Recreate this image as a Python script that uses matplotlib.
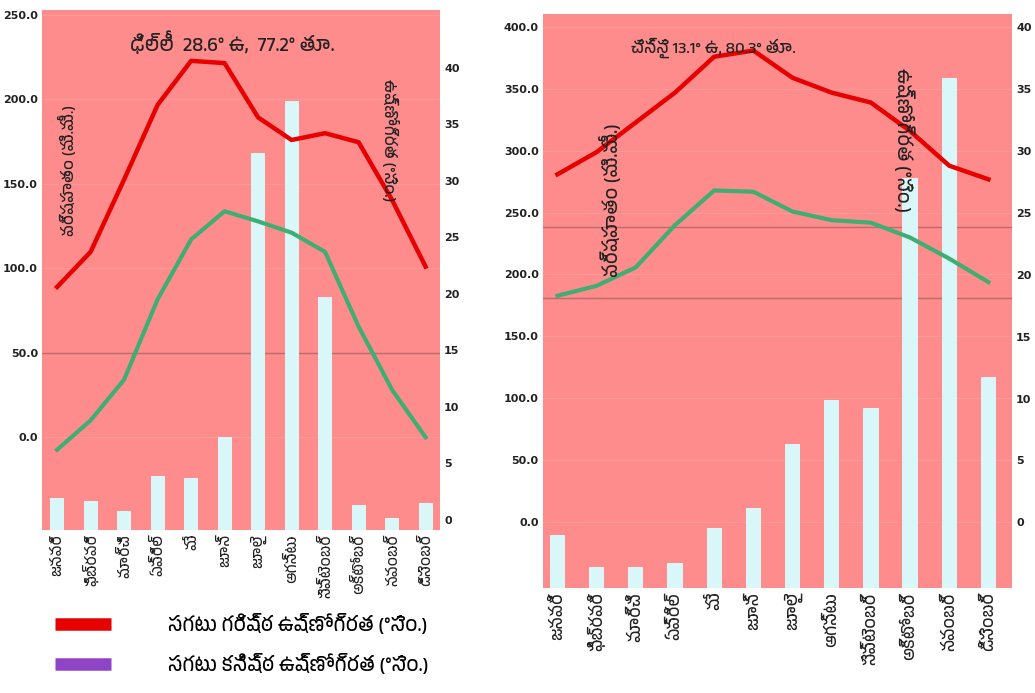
import matplotlib
matplotlib.use("Agg")
import matplotlib.pyplot as plt
from matplotlib import font_manager as fm
from matplotlib.ft2font import FT2Font
from matplotlib.lines import Line2D

# ---------------- data ----------------
months = ['జనవరి', 'ఫిబ్రవరి', 'మార్చి', 'ఏప్రిల్', 'మే', 'జూన్',
          'జూలై', 'ఆగస్టు', 'సెప్టెంబర్', 'అక్టోబర్', 'నవంబర్', 'డిసెంబర్']

delhi_title = 'ఢిల్లీ  28.6° ఉ,  77.2° తూ.'
delhi_rain = [19, 17, 11, 32, 31, 55, 223, 254, 138, 15, 7, 16]          # mm
delhi_tmax = [20.6, 23.7, 30.1, 36.7, 40.6, 40.4, 35.6, 33.6, 34.2, 33.4, 28.3, 22.4]
delhi_tmin = [6.2, 8.8, 12.4, 19.5, 24.8, 27.3, 26.4, 25.4, 23.7, 17.1, 11.5, 7.3]

chennai_title = 'చెన్నై 13.1° ఉ, 80.3° తూ.'
chennai_rain = [43, 17, 17, 20, 49, 65, 117, 152, 146, 332, 413, 171]    # mm
chennai_tmax = [28.1, 29.9, 32.3, 34.7, 37.6, 38.1, 35.9, 34.7, 33.9, 31.6, 28.8, 27.7]
chennai_tmin = [18.3, 19.1, 20.6, 24.0, 26.8, 26.7, 25.1, 24.4, 24.2, 23.0, 21.3, 19.4]

rain_label = 'వర్షపాతం (మి.మీ.)'
temp_label = 'ఉష్ణోగ్రత (°సెం.)'
legend_labels = ['సగటు గరిష్ఠ ఉష్ణోగ్రత (°సెం.)', 'సగటు కనిష్ఠ ఉష్ణోగ్రత (°సెం.)']

# ---------------- fonts ----------------
def find_family(ch):
    entries = sorted(fm.fontManager.ttflist, key=lambda e: ('telugu' not in e.name.lower()))
    for fe in entries:
        try:
            if ord(ch) in FT2Font(fe.fname).get_charmap():
                return fe.name
        except Exception:
            pass
    return None

tel = find_family('త')
FAM = ([tel] if tel else []) + ['DejaVu Sans']
plt.rcParams['font.family'] = FAM

BG = '#ff8c8c'
BAR = '#d9f7f8'
RED = '#e60000'
GREEN = '#3fae72'
PURPLE = '#8e44c4'
TXT = '#222222'

fig = plt.figure(figsize=(10.35, 6.93), dpi=100)
x = list(range(12))


def panel(rect, xlim, left_lim, left_ticks, right_lim, bar_top, rain, tmax, tmin,
          bar_w, title, title_fs, title_xy, rl_xy, tl_xy, side_fs, dark_lines, label_fs):
    ax = fig.add_axes(rect)
    ax.set_facecolor(BG)
    ax.set_xlim(*xlim)
    ax.set_ylim(*left_lim)
    ax.set_yticks(left_ticks)
    ax.set_yticklabels([f'{v:.1f}' for v in left_ticks], fontsize=8,
                       fontweight='bold', color=TXT, family='DejaVu Sans')
    for v in left_ticks:
        ax.axhline(v, color='#f79a9a', lw=0.8, zorder=0.5)
    for v in dark_lines:
        ax.axhline(v, color='#b86c6c', lw=1.0, zorder=0.6)
    ax.set_xticks(x)
    ax.set_xticklabels(months, rotation=90, fontsize=label_fs, color=TXT,
                       style='italic')
    ax.tick_params(length=0, pad=3)
    for s in ax.spines.values():
        s.set_visible(False)

    # rainfall bars (baseline at the floor of the plot)
    axb = ax.twinx()
    axb.set_ylim(0, bar_top)
    axb.bar(x, rain, width=bar_w, color=BAR, zorder=2)
    axb.set_yticks([])
    for s in axb.spines.values():
        s.set_visible(False)

    # temperature lines
    axt = ax.twinx()
    axt.set_ylim(*right_lim)
    axt.plot(x, tmax, color=RED, lw=3.2, solid_joinstyle='round')
    axt.plot(x, tmin, color=GREEN, lw=3.0, solid_joinstyle='round')
    axt.set_yticks(range(0, 41, 5))
    axt.set_yticklabels([str(v) for v in range(0, 41, 5)], fontsize=8,
                        fontweight='bold', color=TXT, family='DejaVu Sans')
    axt.tick_params(length=0, pad=3)
    for s in axt.spines.values():
        s.set_visible(False)

    axt.text(*title_xy, title, transform=ax.transAxes, ha='center', va='center',
             fontsize=title_fs, style='italic', color=TXT)
    axt.text(*rl_xy, rain_label, transform=ax.transAxes, ha='center', va='center',
             rotation=90, fontsize=side_fs, style='italic', color=TXT)
    axt.text(*tl_xy, temp_label, transform=ax.transAxes, ha='center', va='center',
             rotation=270, fontsize=side_fs, style='italic', color=TXT)
    return ax


panel([0.0406, 0.2352, 0.3845, 0.7504], (-0.45, 11.43), (-55, 253),
      [0, 50, 100, 150, 200, 250], (-0.9, 45.1), 308,
      delhi_rain, delhi_tmax, delhi_tmin, 0.42, delhi_title, 14,
      (0.477, 0.938), (0.065, 0.692), (0.874, 0.75), 11.5, [50], 10.5)

panel([0.5246, 0.1515, 0.4531, 0.8283], (-0.37, 11.6), (-53.4, 410.5),
      [0, 50, 100, 150, 200, 250, 300, 350, 400], (-5.3, 41.05), 465,
      chennai_rain, chennai_tmax, chennai_tmin, 0.39, chennai_title, 12,
      (0.363, 0.941), (0.142, 0.676), (0.77, 0.78), 13.5, [238, 181], 12)

handles = [Line2D([], [], color=RED, lw=9, solid_capstyle='butt'),
           Line2D([], [], color=PURPLE, lw=9, solid_capstyle='butt')]
leg = fig.legend(handles, legend_labels, loc='upper left',
                 bbox_to_anchor=(45 / 1035, 1 - 603 / 693), frameon=False,
                 borderpad=0, handlelength=2.9, handletextpad=2.9, labelspacing=1.0,
                 prop={'size': 14, 'style': 'italic'})

fig.savefig('out.png', dpi=100, facecolor='white')
